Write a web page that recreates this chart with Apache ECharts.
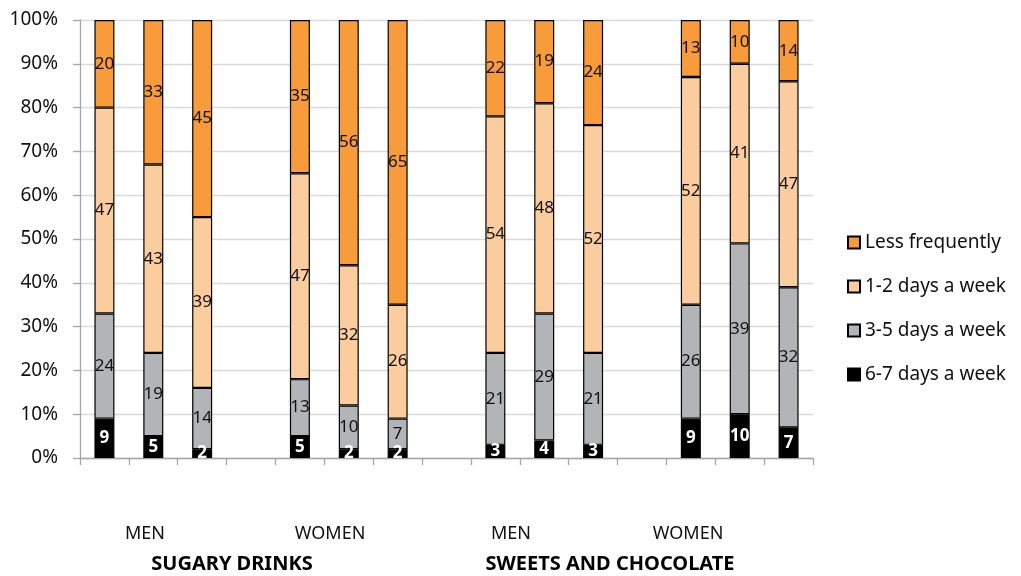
<!DOCTYPE html>
<html>
<head>
<meta charset="utf-8">
<script src="https://cdn.jsdelivr.net/npm/echarts@6/dist/echarts.min.js"></script>
<style>html,body{margin:0;padding:0;background:#fff}#c{width:1021px;height:576px}</style>
</head>
<body>
<div id="c"></div>
<script>
// 15 slots: 3 bars per group, one empty slot between groups
const categories = ['SD-M1','SD-M2','SD-M3','', 'SD-W1','SD-W2','SD-W3','', 'SC-M1','SC-M2','SC-M3','', 'SC-W1','SC-W2','SC-W3'];
const seriesNames = ['6-7 days a week','3-5 days a week','1-2 days a week','Less frequently'];
const days67   = [9,5,2,null, 5,2,2,null, 3,4,3,null, 9,10,7];
const days35   = [24,19,14,null, 13,10,7,null, 21,29,21,null, 26,39,32];
const days12   = [47,43,39,null, 47,32,26,null, 54,48,52,null, 52,41,47];
const lessFreq = [20,33,45,null, 35,56,65,null, 22,19,24,null, 13,10,14];
const yTicks = [0,10,20,30,40,50,60,70,80,90,100];
const groupLabels = ['MEN','WOMEN','MEN','WOMEN'];
const topicLabels = ['SUGARY DRINKS','SWEETS AND CHOCOLATE'];

const colors = ['#000000','#b2b4b7','#fbcc9e','#f79b3b'];
const FONT = 'Noto Sans';
const seriesData = [days67, days35, days12, lessFreq];

const series = seriesData.map((d, i) => ({
  name: seriesNames[i],
  type: 'bar',
  stack: 'total',
  barWidth: 20,
  data: d,
  itemStyle: { color: colors[i], borderColor: '#000', borderWidth: 1.2 },
  label: {
    show: true,
    position: 'inside',
    fontFamily: FONT,
    fontSize: 17,
    fontWeight: i === 0 ? 'bold' : 'normal',
    color: i === 0 ? '#fff' : '#111',
    formatter: p => (p.value == null ? '' : String(p.value))
  },
  emphasis: { disabled: true }
}));

const chart = echarts.init(document.getElementById('c'));
chart.setOption({
  animation: false,
  backgroundColor: '#fff',
  textStyle: { fontFamily: FONT },
  grid: { left: 80, right: 208, top: 20, bottom: 118, containLabel: false },
  legend: {
    orient: 'vertical',
    left: 842,
    top: 228,
    itemWidth: 12,
    itemHeight: 12,
    itemGap: 25,
    icon: 'rect',
    data: seriesNames.slice().reverse(),
    textStyle: { fontFamily: FONT, fontSize: 19, color: '#111' }
  },
  xAxis: {
    type: 'category',
    data: categories,
    boundaryGap: true,
    axisLine: { lineStyle: { color: '#a6a6a6', width: 1.3 } },
    axisTick: { show: true, interval: 0, length: 7, lineStyle: { color: '#a6a6a6', width: 1.3 } },
    axisLabel: { show: false }
  },
  yAxis: {
    type: 'value',
    min: 0,
    max: 100,
    interval: 10,
    axisLine: { show: true, lineStyle: { color: '#a6a6a6', width: 1.3 } },
    axisTick: { show: true, length: 7, lineStyle: { color: '#a6a6a6', width: 1.3 } },
    splitLine: { lineStyle: { color: '#d9d9d9', width: 1.3 } },
    axisLabel: {
      fontFamily: FONT, fontSize: 19, color: '#111', margin: 22,
      formatter: v => (yTicks.indexOf(v) >= 0 ? v + '%' : '')
    }
  },
  series: series,
  graphic: [
    { type: 'text', x: 145, y: 534, style: { text: groupLabels[0], font: '18px "Noto Sans"', fill: '#111', align: 'center', verticalAlign: 'middle' } },
    { type: 'text', x: 330, y: 534, style: { text: groupLabels[1], font: '18px "Noto Sans"', fill: '#111', align: 'center', verticalAlign: 'middle' } },
    { type: 'text', x: 511, y: 534, style: { text: groupLabels[2], font: '18px "Noto Sans"', fill: '#111', align: 'center', verticalAlign: 'middle' } },
    { type: 'text', x: 688, y: 534, style: { text: groupLabels[3], font: '18px "Noto Sans"', fill: '#111', align: 'center', verticalAlign: 'middle' } },
    { type: 'text', x: 232, y: 564, style: { text: topicLabels[0], font: 'bold 20px "Noto Sans"', fill: '#000', align: 'center', verticalAlign: 'middle' } },
    { type: 'text', x: 610, y: 564, style: { text: topicLabels[1], font: 'bold 20px "Noto Sans"', fill: '#000', align: 'center', verticalAlign: 'middle' } }
  ]
});
</script>
</body>
</html>
